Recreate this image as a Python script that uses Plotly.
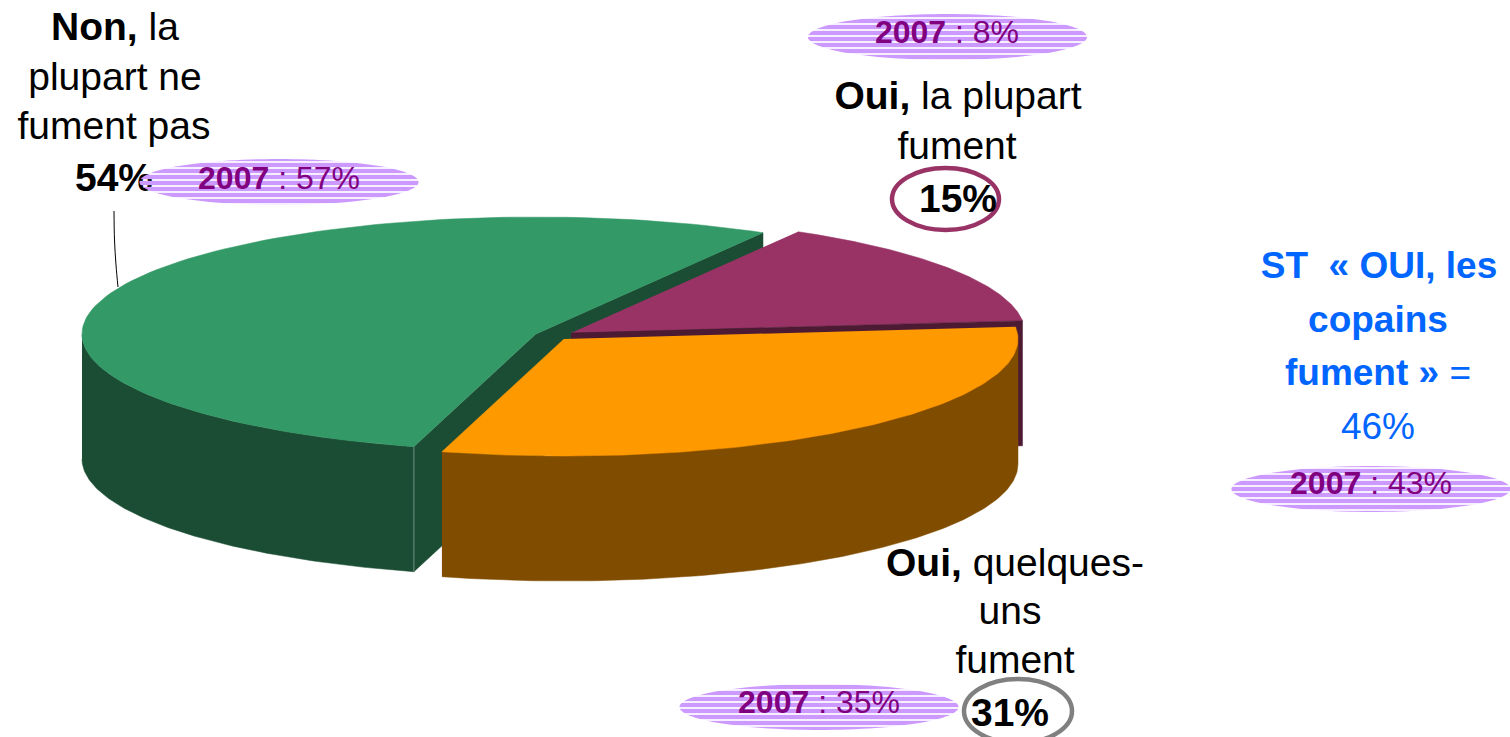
import numpy as np
import plotly.graph_objects as go

# Data
categories = ["Non, la plupart ne fument pas", "Oui, quelques-uns fument", "Oui, la plupart fument"]
shares_2024 = [54, 31, 15]
shares_2007 = [57, 35, 8]
total_yes = 46
total_yes_2007 = 43

# Styling / layout
W, H = 1510, 737
RX, RY, DEPTH = 454, 117, 125
START = 60.0
TOP = {"green": "#339966", "orange": "#FF9900", "purple": "#993366"}
SIDE = {"green": "#1A4D33", "orange": "#804D00", "purple": "#4D1A33"}
CENTERS = {"green": (536, 334), "orange": (564, 339), "purple": (571, 333)}
FONT = "Liberation Sans, Arial, sans-serif"

angles = {}
a = START
for key, v in zip(["green", "orange", "purple"], shares_2024):
    angles[key] = (a, a + v * 3.6)
    a += v * 3.6


def rim(key, a0, a1, dy=0, n=120):
    cx, cy = CENTERS[key]
    t = np.radians(np.linspace(a0, a1, n))
    return cx + RX * np.cos(t), cy - RY * np.sin(t) + dy


fig = go.Figure()


def poly(x, y, color, name):
    fig.add_trace(go.Scatter(x=list(x), y=list(y), mode="lines", fill="toself", fillcolor=color,
                             line=dict(color=color, width=0.5), hoverinfo="skip", name=name))


def cut_face(key, angle, color):
    cx, cy = CENTERS[key]
    xr, yr = rim(key, angle, angle, n=1)
    poly([cx, xr[0], xr[0], cx], [cy, yr[0], yr[0] + DEPTH, cy + DEPTH], color, key + " cut")


def wall(key, a0, a1, color):
    xt, yt = rim(key, a0, a1)
    xb, yb = rim(key, a1, a0, dy=DEPTH)
    poly(np.r_[xt, xb], np.r_[yt, yb], color, key + " wall")


def top(key):
    cx, cy = CENTERS[key]
    x, y = rim(key, *angles[key])
    poly(np.r_[cx, x], np.r_[cy, y], TOP[key], categories[["green", "orange", "purple"].index(key)])


# back to front
cut_face("green", angles["green"][0], SIDE["green"])
top("purple")
cut_face("purple", angles["purple"][0], SIDE["purple"])
cut_face("green", angles["green"][1], SIDE["green"])
wall("green", 180, angles["green"][1], SIDE["green"])
top("green")
wall("orange", angles["orange"][0], 360, SIDE["orange"])
top("orange")

# thin highlight on green corner
xr, yr = rim("green", angles["green"][1], angles["green"][1], n=1)
fig.add_trace(go.Scatter(x=[xr[0], xr[0]], y=[yr[0], yr[0] + DEPTH], mode="lines",
                         line=dict(color="#6F9180", width=1), hoverinfo="skip"))

# leader line
fig.add_trace(go.Scatter(x=[114, 114.5, 116, 118], y=[211, 240, 265, 287], mode="lines",
                         line=dict(color="black", width=1), hoverinfo="skip", line_shape="spline"))


def label(x, y, text, color="black", size=39):
    fig.add_trace(go.Scatter(x=[x], y=[y + 3], mode="text", text=[text], textposition="middle center",
                             textfont=dict(family=FONT, size=size, color=color),
                             hoverinfo="skip", cliponaxis=False))


def badge(cx, cy):
    t = np.radians(np.linspace(0, 360, 121))
    fig.add_trace(go.Scatter(x=cx + 139.5 * np.cos(t), y=cy + 23 * np.sin(t), mode="none", fill="toself",
                             fillcolor="rgba(0,0,0,0)",
                             fillpattern=dict(shape="-", fgcolor="#CC99FF", bgcolor="rgba(0,0,0,0)",
                                              size=6, solidity=0.72, fgopacity=1),
                             hoverinfo="skip"))


# main labels
label(115, 27, "<b>Non,</b> la")
label(115, 77, "plupart ne")
label(114, 126, "fument pas")
label(114, 178, f"<b>{shares_2024[0]}%</b>")

label(958, 96, "<b>Oui,</b> la plupart")
label(957, 146, "fument")
label(958, 199, f"<b>{shares_2024[2]}%</b>")

label(1015, 563, "<b>Oui,</b> quelques-")
label(1010, 611, "uns")
label(1015, 660, "fument")
label(1010, 713, f"<b>{shares_2024[1]}%</b>")

BLUE = "#0066FF"
label(1379, 266, "<b>ST \u00a0« OUI, les</b>", BLUE, 37)
label(1378, 320, "<b>copains</b>", BLUE, 37)
label(1378, 373, "<b>fument »</b> =", BLUE, 37)
label(1378, 427, f"{total_yes}%", BLUE, 37)

# 2007 badges
for cx, cy, tx, ty, v in [
    (947.5, 37, 947, 32, shares_2007[2]),
    (279, 182, 279, 178, shares_2007[0]),
    (819, 707, 819, 702, shares_2007[1]),
    (1371, 489, 1371, 483, total_yes_2007),
]:
    badge(cx, cy)
    label(tx, ty, f"<b>2007</b> : {v}%", "#800080", 32)

fig.update_layout(
    width=W, height=H, showlegend=False, margin=dict(l=0, r=0, t=0, b=0),
    paper_bgcolor="white", plot_bgcolor="white",
    xaxis=dict(range=[0, W], visible=False, fixedrange=True),
    yaxis=dict(range=[H, 0], visible=False, fixedrange=True),
    shapes=[
        dict(type="circle", xref="x", yref="y", x0=892, x1=999, y0=168, y1=230,
             line=dict(color="#993366", width=4.5), layer="below"),
        dict(type="circle", xref="x", yref="y", x0=964, x1=1072, y0=679, y1=743,
             line=dict(color="#808080", width=4.5), layer="below"),
    ],
)
fig.write_html("out.html", config={"displayModeBar": False},
               post_script="document.body.style.margin='0';document.body.style.overflow='hidden';")
